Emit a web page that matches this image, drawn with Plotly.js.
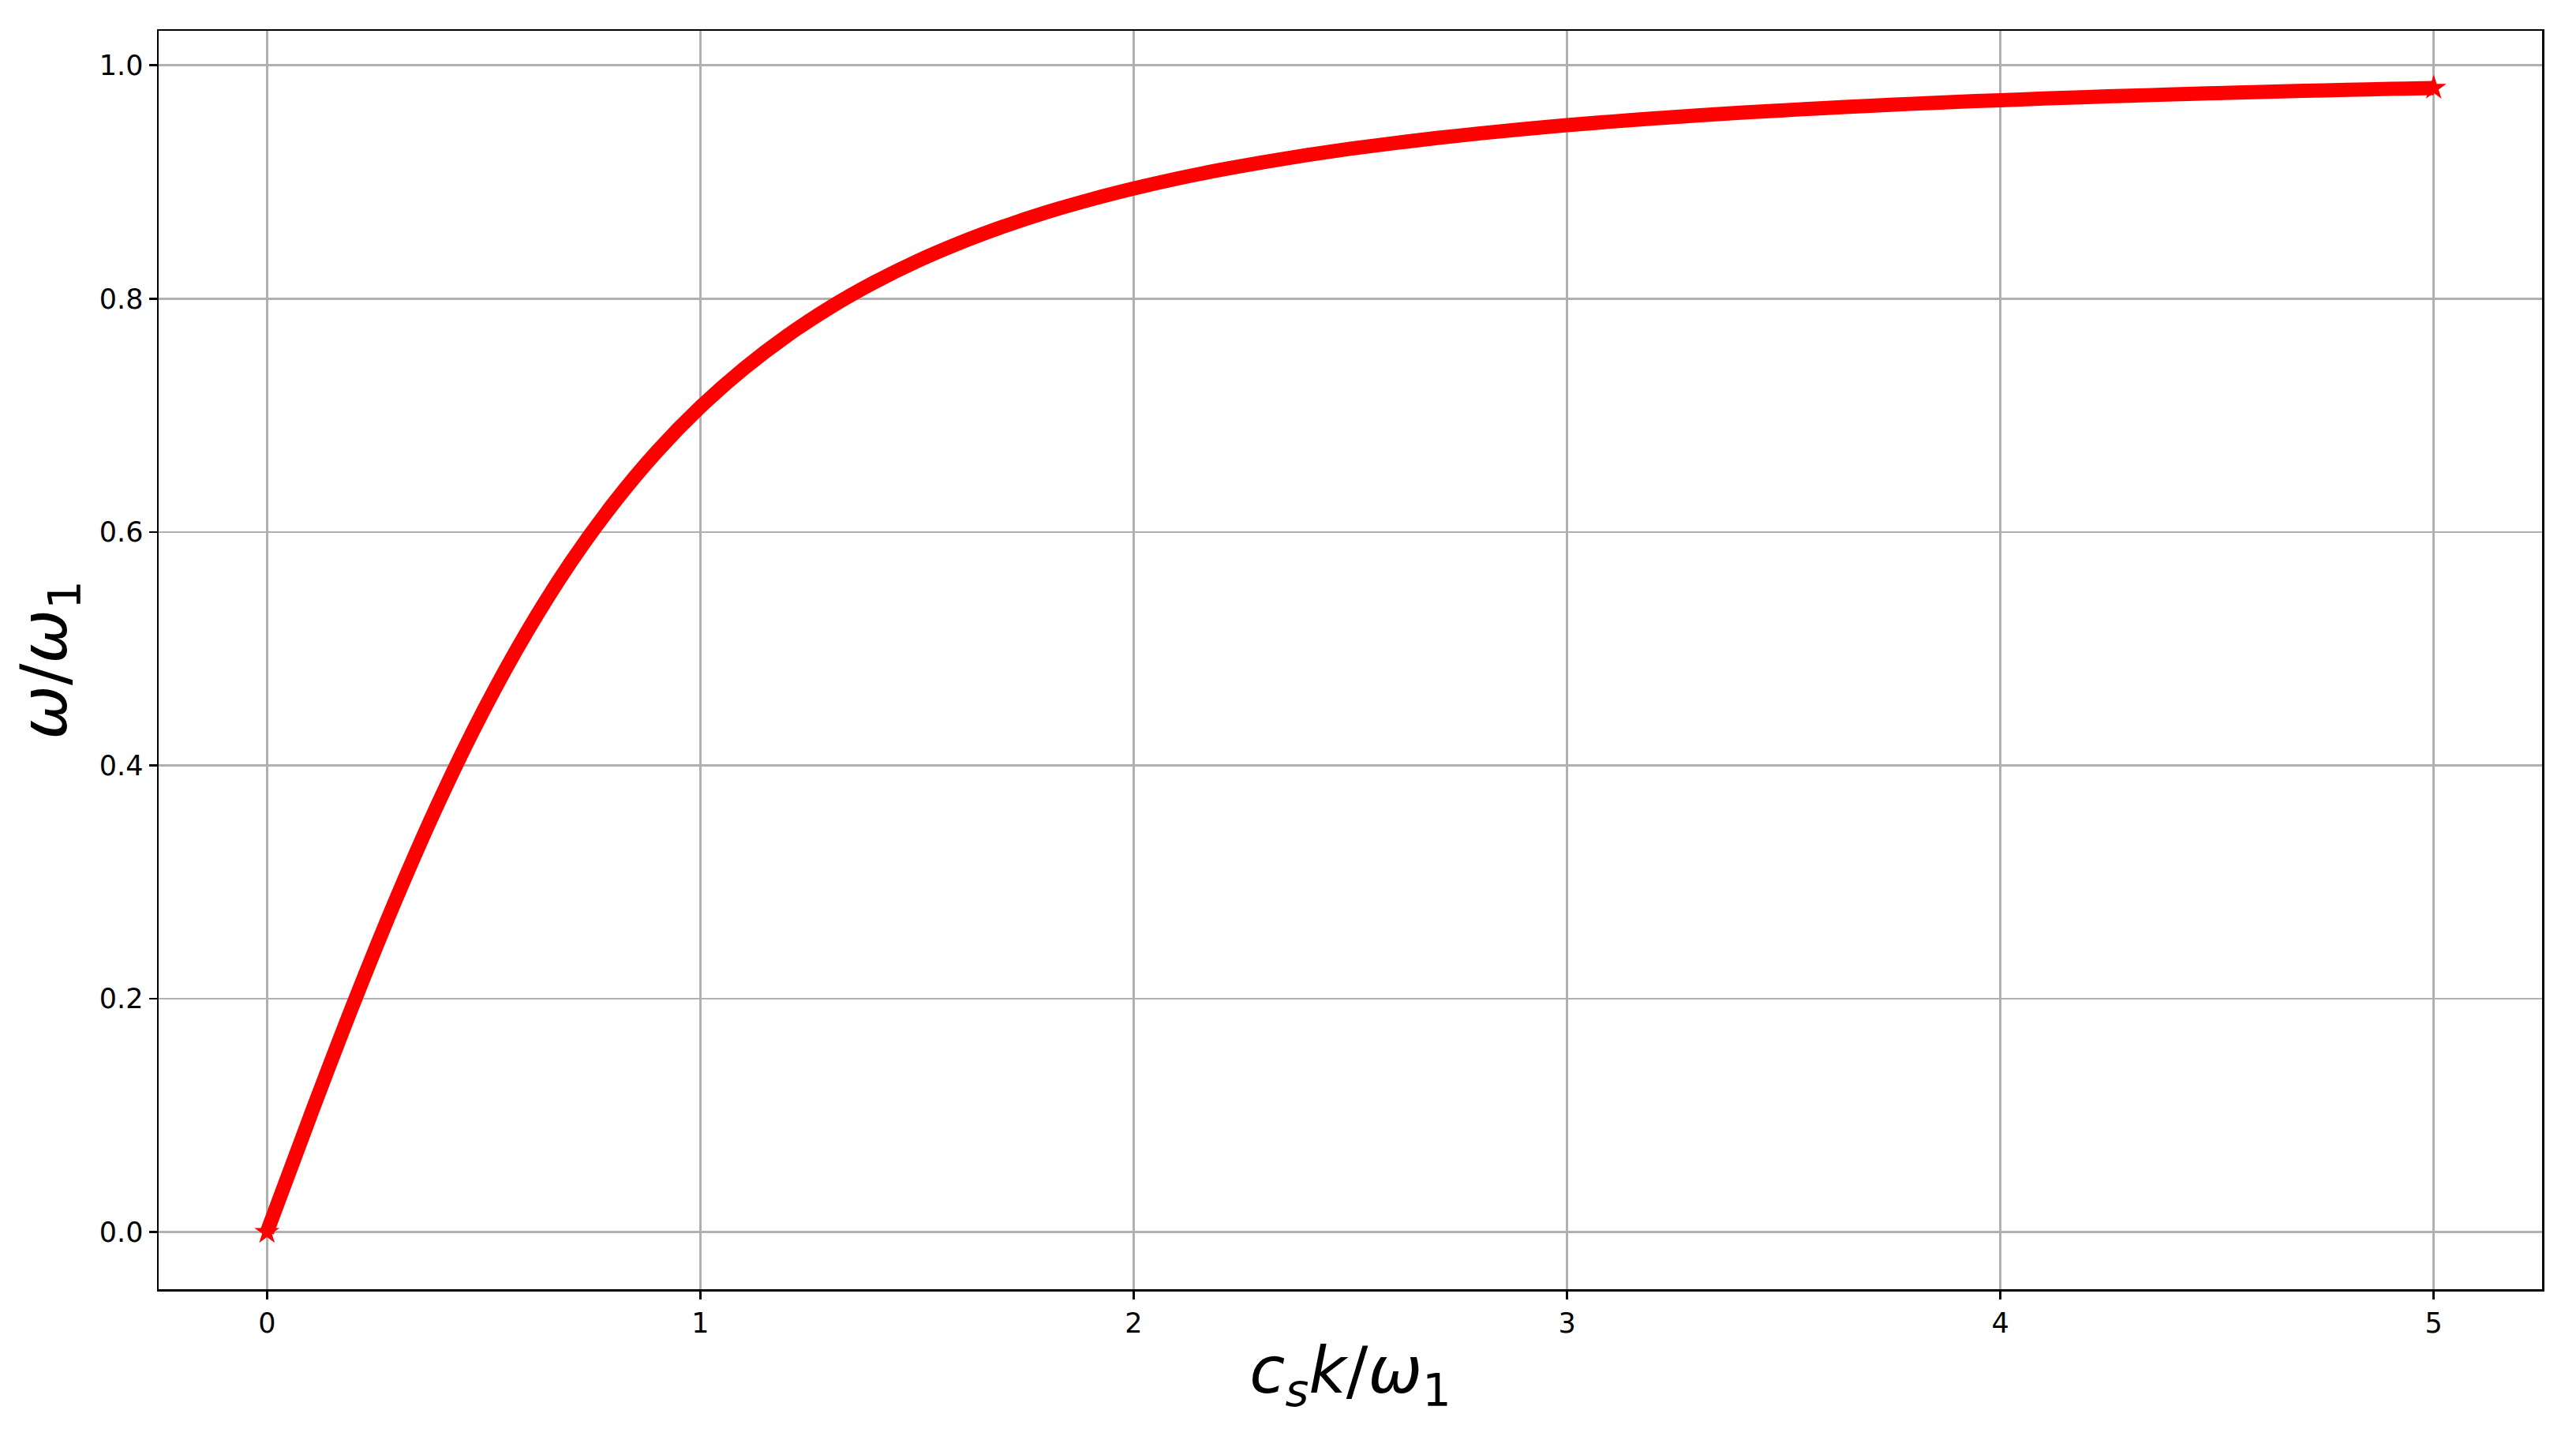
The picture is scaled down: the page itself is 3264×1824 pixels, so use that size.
<!DOCTYPE html>
<html>
<head>
<meta charset="utf-8">
<script src="https://cdn.plot.ly/plotly-3.0.1.min.js"></script>
<style>html,body{margin:0;padding:0;background:#fff;}#chart{width:3264px;height:1824px;}</style>
</head>
<body>
<div id="chart"></div>
<script>
// c_s k / omega_1 (x) and omega / omega_1 (y)
const kValues = [0.0,0.1,0.2,0.3,0.4,0.5,0.6,0.7,0.8,0.9,
  1.0,1.1,1.2,1.3,1.4,1.5,1.6,1.7,1.8,1.9,
  2.0,2.1,2.2,2.3,2.4,2.5,2.6,2.7,2.8,2.9,
  3.0,3.1,3.2,3.3,3.4,3.5,3.6,3.7,3.8,3.9,
  4.0,4.1,4.2,4.3,4.4,4.5,4.6,4.7,4.8,4.9,5.0];
const omegaValues = [0.0000,0.0995,0.1961,0.2873,0.3714,0.4472,0.5145,0.5735,0.6247,0.6690,
  0.7071,0.7399,0.7682,0.7926,0.8137,0.8321,0.8480,0.8619,0.8742,0.8849,
  0.8944,0.9029,0.9104,0.9171,0.9231,0.9285,0.9333,0.9377,0.9417,0.9454,
  0.9487,0.9517,0.9545,0.9570,0.9594,0.9615,0.9635,0.9653,0.9671,0.9687,
  0.9701,0.9715,0.9728,0.9740,0.9751,0.9762,0.9772,0.9781,0.9790,0.9798,0.9806];
const xTickVals = [0,1,2,3,4,5];
const xTickText = ['0','1','2','3','4','5'];
const yTickVals = [0.0,0.2,0.4,0.6,0.8,1.0];
const yTickText = ['0.0','0.2','0.4','0.6','0.8','1.0'];

const trace = {
  x: kValues, y: omegaValues, type: 'scatter', mode: 'lines',
  line: {color: '#ff0000', width: 18, shape: 'spline', smoothing: 1},
  showlegend: false, hoverinfo: 'skip'
};
const ends = {
  x: [kValues[0], kValues[kValues.length-1]],
  y: [omegaValues[0], omegaValues[omegaValues.length-1]],
  type: 'scatter', mode: 'markers',
  marker: {symbol: 'star', size: 24, color: '#ff0000', line: {width: 0}},
  showlegend: false, hoverinfo: 'skip'
};

const axisCommon = {
  showline: true, mirror: true, linecolor: '#000', linewidth: 2.5,
  ticks: 'outside', ticklen: 10, tickwidth: 2.5, tickcolor: '#000',
  showgrid: true, gridcolor: '#b0b0b0', gridwidth: 2.5,
  zeroline: false,
  tickfont: {family: 'DejaVu Sans', size: 35, color: '#000'}
};

const layout = {
  width: 3264, height: 1824,
  paper_bgcolor: '#fff', plot_bgcolor: '#fff',
  margin: {l: 201, r: 43, t: 39, b: 191},
  xaxis: Object.assign({}, axisCommon, {
    range: [-0.25, 5.25], tickmode: 'array', tickvals: xTickVals, ticktext: xTickText,
    title: {text: '<i>c</i><sub><i>s</i></sub><i>k</i>/<i>ω</i><sub>1</sub>',
      font: {family: 'DejaVu Sans', size: 82, color: '#000'}, standoff: 12}
  }),
  yaxis: Object.assign({}, axisCommon, {
    range: [-0.049, 1.0296], tickmode: 'array', tickvals: yTickVals, ticktext: yTickText,
    title: {text: '<i>ω</i>/<i>ω</i><sub>1</sub>',
      font: {family: 'DejaVu Sans', size: 82, color: '#000'}, standoff: 14}
  })
};

Plotly.newPlot('chart', [trace, ends], layout, {displayModeBar: false, staticPlot: true});
</script>
</body>
</html>
